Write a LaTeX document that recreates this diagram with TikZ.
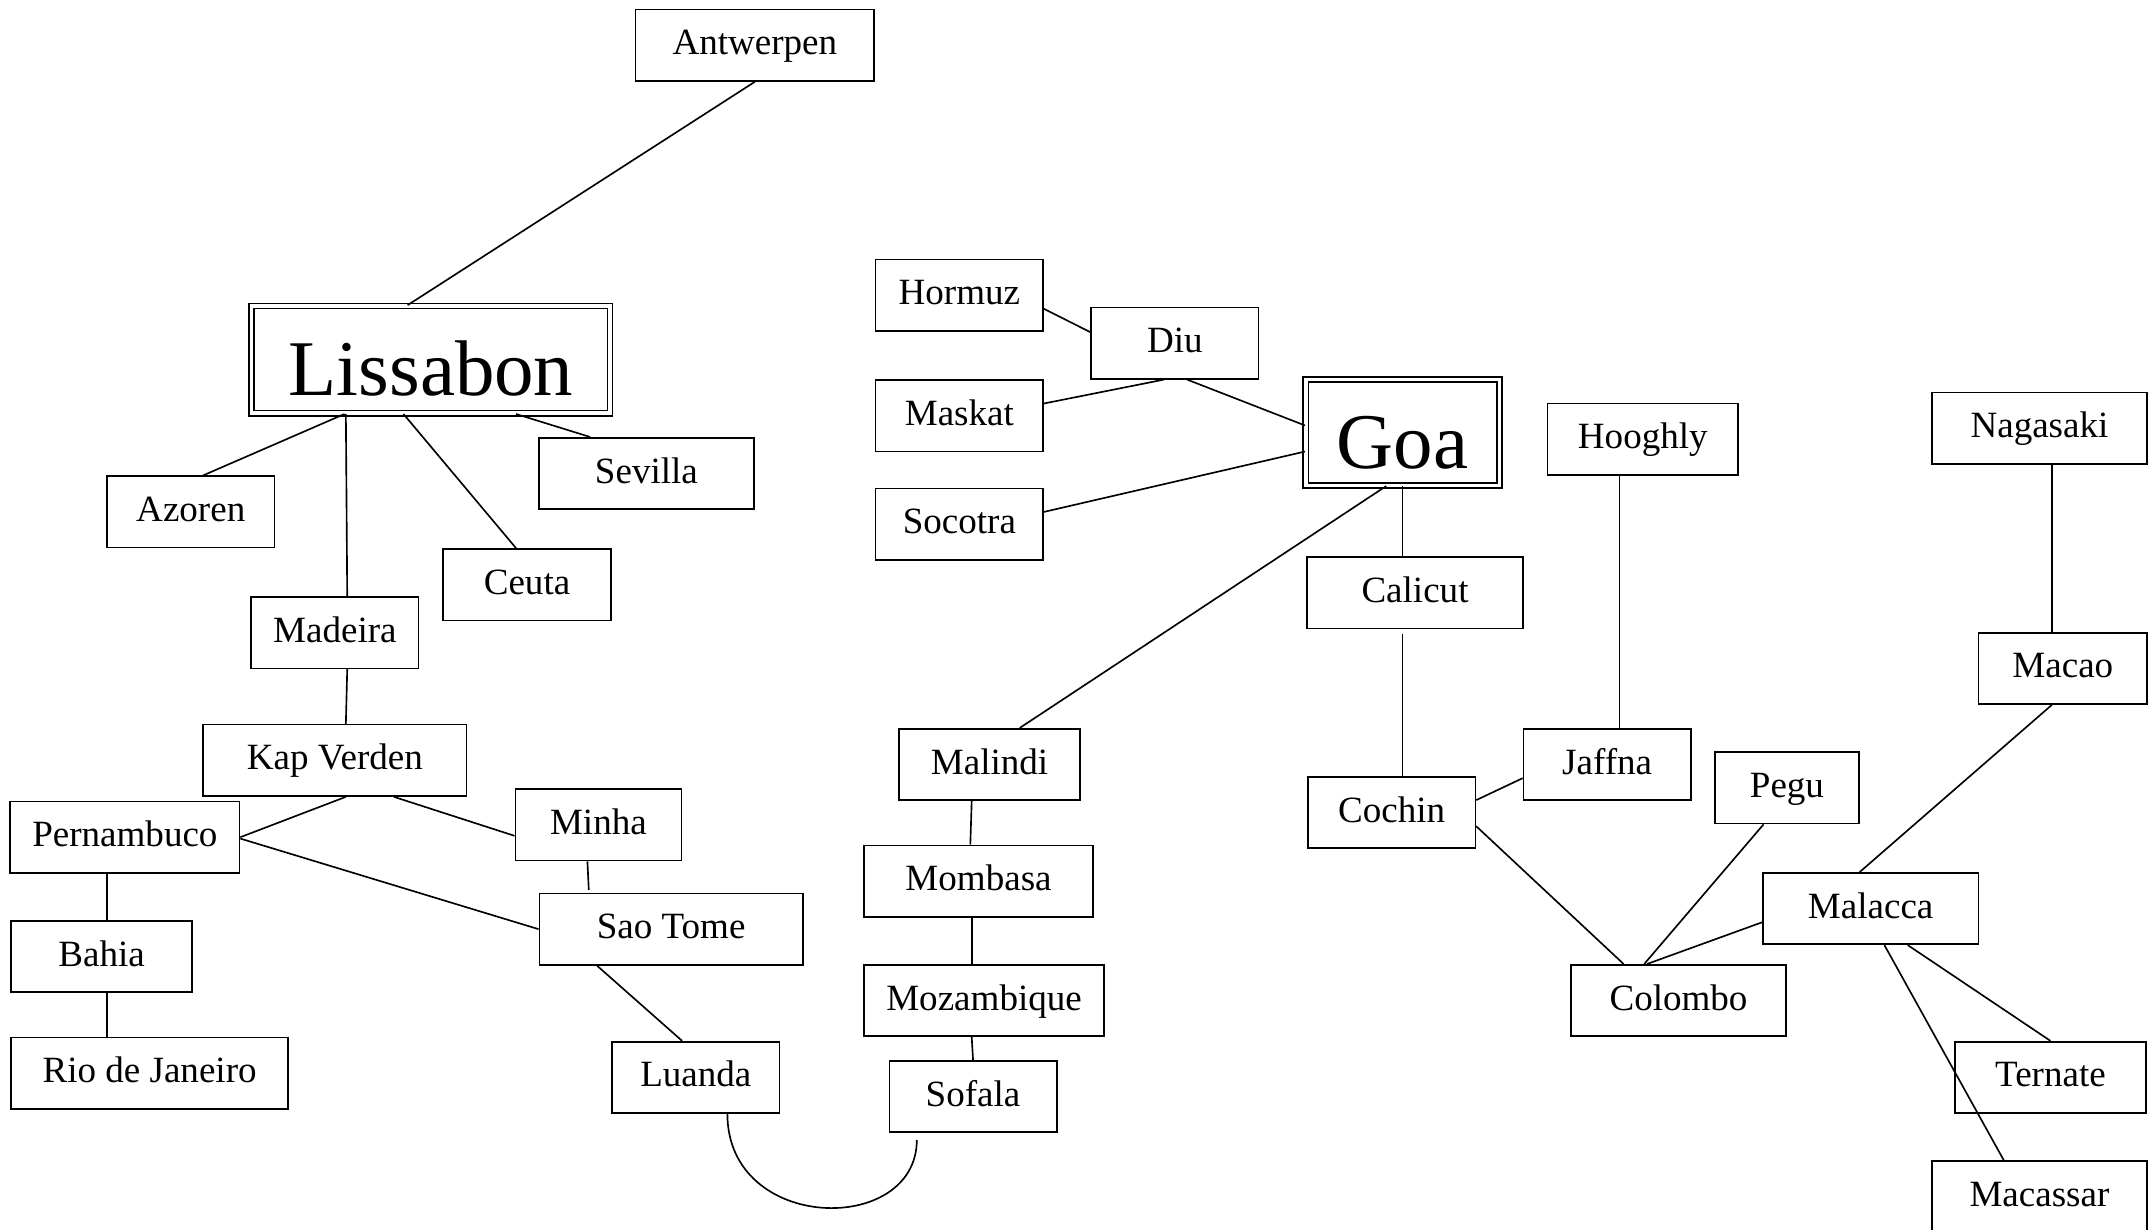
\documentclass[tikz,border=0pt]{standalone}
\usepackage{fontspec}
\setmainfont{Liberation Serif}
\usepackage{tikz}

\tikzset{
  city/.style={draw, line width=1.2pt, inner sep=0pt, minimum height=52pt,
    text height=19pt, text depth=5pt, font=\fontsize{27}{32}\selectfont},
  capital/.style={draw, line width=1.3pt, double, double distance=2.4pt, inner sep=0pt,
    text height=52pt, text depth=0pt, font=\fontsize{57.5}{66}\selectfont},
  route/.style={line width=1.2pt}
}

\begin{document}
\begin{tikzpicture}[x=1pt, y=-1pt]
\useasboundingbox (0,0) rectangle (1568,896);
%
\node [capital, minimum width=261pt, minimum height=78pt] (lis) at (314,262) {Lissabon};
\node [capital, minimum width=141pt, minimum height=77pt] (goa) at (1022,315) {Goa};
%
\node [city, minimum width=174pt] (ant) at (550,33)  {Antwerpen};
\node [city, minimum width=122pt] (azo) at (139,373) {Azoren};
\node [city, minimum width=157pt] (sev) at (471,345) {Sevilla};
\node [city, minimum width=122pt] (ceu) at (384,426) {Ceuta};
\node [city, minimum width=122pt] (mad) at (244,461) {Madeira};
\node [city, minimum width=192pt] (kap) at (244,554) {Kap Verden};
\node [city, minimum width=167pt] (per) at (91,610)  {Pernambuco};
\node [city, minimum width=121pt] (min) at (436,601) {Minha};
\node [city, minimum width=192pt] (sao) at (489,677) {Sao Tome};
\node [city, minimum width=132pt] (bah) at (74,697)  {Bahia};
\node [city, minimum width=202pt] (rio) at (109,782) {Rio de Janeiro};
\node [city, minimum width=122pt] (lua) at (507,785) {Luanda};
%
\node [city, minimum width=122pt] (sof) at (709,799) {Sofala};
\node [city, minimum width=175pt] (moz) at (717,729) {Mozambique};
\node [city, minimum width=167pt] (mom) at (713,642) {Mombasa};
\node [city, minimum width=132pt] (mal) at (721,557) {Malindi};
\node [city, minimum width=122pt] (hor) at (699,215) {Hormuz};
\node [city, minimum width=122pt] (diu) at (856,250) {Diu};
\node [city, minimum width=122pt] (mas) at (699,303) {Maskat};
\node [city, minimum width=122pt] (soc) at (699,382) {Socotra};
%
\node [city, minimum width=157pt] (cal) at (1031,432) {Calicut};
\node [city, minimum width=122pt] (coc) at (1014,592) {Cochin};
\node [city, minimum width=139pt] (hoo) at (1197,320) {Hooghly};
\node [city, minimum width=122pt] (jaf) at (1171,557) {Jaffna};
\node [city, minimum width=105pt] (peg) at (1302,574) {Pegu};
\node [city, minimum width=157pt] (col) at (1223,729) {Colombo};
\node [city, minimum width=157pt] (mca) at (1363,662) {Malacca};
\node [city, minimum width=157pt] (nag) at (1486,312) {Nagasaki};
\node [city, minimum width=123pt] (mco) at (1503,487) {Macao};
\node [city, minimum width=139pt] (ter) at (1494,785) {Ternate};
\node [city, minimum width=157pt] (mks) at (1486,872) {Macassar};
%%%%%%%%%%%%%%%%%%%%%%%%%%%%%%%
\draw [route] (ant.south) -- ([xshift=-17pt]lis.north);
\draw [route] ([xshift=-63pt]lis.south) -- ([xshift=9pt]azo.north);
\draw [route] ([xshift=-62pt]lis.south) -- ([xshift=9pt]mad.north);
\draw [route] ([xshift=-20pt]lis.south) -- ([xshift=-8pt]ceu.north);
\draw [route] ([xshift=62pt]lis.south) -- ([xshift=-41pt]sev.north);
\draw [route] ([xshift=9pt]mad.south) -- ([xshift=8pt]kap.north);
\draw [route] ([xshift=8pt]kap.south) -- (per.east);
\draw [route] ([xshift=43pt]kap.south) -- ([yshift=-8pt]min.west);
\draw [route] ([yshift=-1pt]per.east) -- (sao.west);
\draw [route] ([xshift=-8pt]min.south) -- ([xshift=-60pt,yshift=2pt]sao.north);
\draw [route] ([xshift=-13pt]per.south) -- ([xshift=4pt]bah.north);
\draw [route] ([xshift=4pt]bah.south) -- ([xshift=-31pt]rio.north);
\draw [route] ([xshift=-54pt]sao.south) -- ([xshift=-10pt]lua.north);
\draw [route] ([xshift=23pt]lua.south) .. controls +(0,87) and +(0,70) .. ([xshift=-41pt,yshift=-5pt]sof.south);
%
\draw [route] (sof.north) -- ([xshift=-9pt]moz.south);
\draw [route] ([xshift=-9pt]moz.north) -- ([xshift=-5pt]mom.south);
\draw [route] ([xshift=-6pt]mom.north) -- ([xshift=-13pt]mal.south);
\draw [route] ([xshift=22pt]mal.north) -- ([xshift=-12pt]goa.south);
\draw [route] ([yshift=-10pt]hor.east) -- ([yshift=8pt]diu.west);
\draw [route] ([yshift=9pt]mas.east) -- ([xshift=-8pt]diu.south);
\draw [route] ([xshift=9pt]diu.south) -- ([yshift=5pt]goa.west);
\draw [route] ([yshift=9pt]soc.east) -- ([yshift=-14pt]goa.west);
%
\draw [route] (goa.south) -- ([xshift=-9pt]cal.north);
\draw [route] ([xshift=-9pt,yshift=-3pt]cal.south) -- ([xshift=8pt]coc.north);
\draw [route] ([xshift=-17pt]hoo.south) -- ([xshift=9pt]jaf.north);
\draw [route] ([yshift=9pt]coc.east) -- ([yshift=-10pt]jaf.west);
\draw [route] ([yshift=-10pt]coc.east) -- ([xshift=-40pt]col.north);
\draw [route] ([xshift=-17pt]peg.south) -- ([xshift=-25pt]col.north);
\draw [route] ([yshift=-10pt]mca.west) -- ([xshift=-23pt]col.north);
\draw [route] ([xshift=9pt]nag.south) -- ([xshift=-8pt]mco.north);
\draw [route] ([xshift=-8pt]mco.south) -- ([xshift=-8pt]mca.north);
\draw [route] ([xshift=27pt]mca.south) -- (ter.north);
\draw [route] ([xshift=10pt]mca.south) -- ([xshift=-26pt]mks.north);
%%%%%%%%%%%%%%%%%%%%%%%%%%%%%%%
\end{tikzpicture}
\end{document}
